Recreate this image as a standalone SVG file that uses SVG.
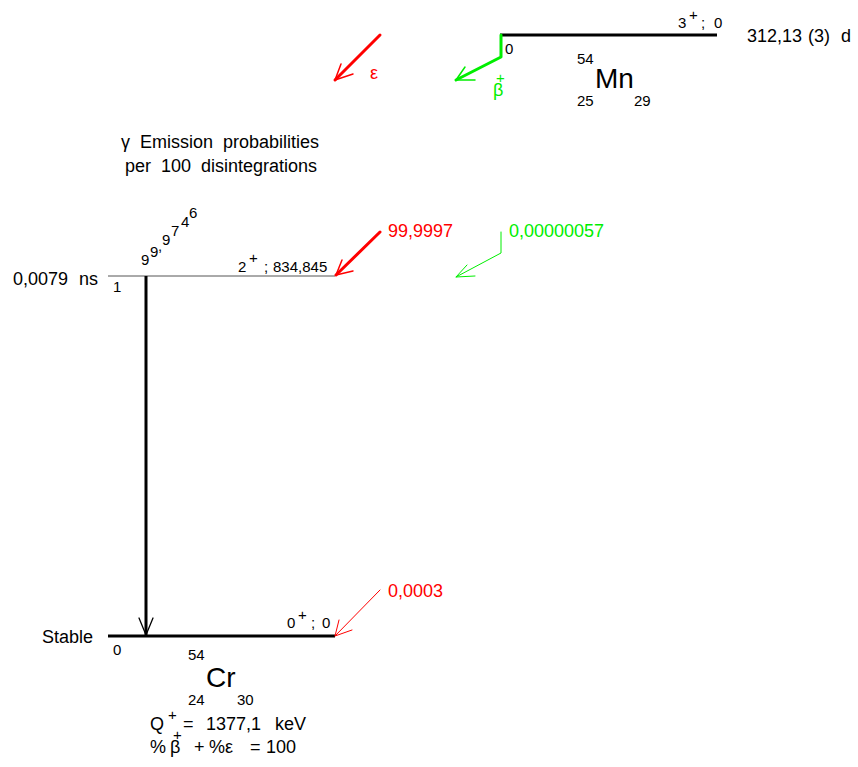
<svg xmlns="http://www.w3.org/2000/svg" width="858" height="767" viewBox="0 0 858 767">
<style>
text{font-family:"Liberation Sans",Arial,sans-serif;fill:#000}
.s{font-size:15px}
.m{font-size:18px}
.b{font-size:28px}
.r{fill:#ff0000}
.g{fill:#00ee00}
.lv{stroke:#000;stroke-width:3;fill:none}
.thin{stroke:#555;stroke-width:1;fill:none}
</style>
<rect width="858" height="767" fill="#fff"/>
<g id="parent-Mn54">
<line class="lv" x1="500" y1="35" x2="717" y2="35"/>
<text class="s" x="678" y="28">3</text><text class="s" x="689" y="20">+</text><text class="s" x="701" y="28">;</text><text class="s" x="714" y="28">0</text>
<text class="m" x="747" y="42">312,13</text><text class="m" x="808" y="42">(3)</text><text class="m" x="841" y="42">d</text>
<text class="s" x="505" y="54">0</text>
<text class="s" x="577" y="64">54</text>
<text class="b" x="595" y="88">Mn</text>
<text class="s" x="577" y="106">25</text>
<text class="s" x="634" y="106">29</text>
<text class="m r" x="370" y="79">ε</text>
<text class="m g" x="493" y="96">β</text><text class="s g" x="496" y="83">+</text>
</g>
<g id="caption">
<text class="m" x="121" y="148" word-spacing="5">γ Emission probabilities</text>
<text class="m" x="125" y="172" word-spacing="5">per 100 disintegrations</text>
</g>
<g id="level-834">
<line class="thin" x1="108" y1="276" x2="335" y2="276"/>
<text class="m" x="13" y="285">0,0079</text><text class="m" x="79" y="285">ns</text>
<text class="s" x="113" y="292">1</text>
<text class="s" x="238" y="272">2</text><text class="s" x="249" y="263">+</text><text class="s" x="264" y="272">;</text><text class="s" x="273" y="272">834,845</text>
<text class="m r" x="388" y="237">99,9997</text>
<text class="m g" x="509" y="237">0,00000057</text>
</g>
<g id="level-0">
<line class="lv" x1="108" y1="636" x2="335" y2="636"/>
<text class="m" x="42" y="643">Stable</text>
<text class="s" x="113" y="655">0</text>
<text class="s" x="287" y="628">0</text><text class="s" x="298" y="620">+</text><text class="s" x="311" y="628">;</text><text class="s" x="322" y="628">0</text>
<text class="m r" x="388" y="597">0,0003</text>
<text class="s" x="188" y="660">54</text>
<text class="b" x="206" y="687">Cr</text>
<text class="s" x="188" y="705">24</text>
<text class="s" x="237" y="705">30</text>
<text class="m" x="150" y="730">Q</text><text class="s" x="168" y="720">+</text><text class="m" x="183" y="730">=</text><text class="m" x="206" y="730">1377,1</text><text class="m" x="275" y="730">keV</text>
<text class="m" x="150" y="753">%</text><text class="m" x="170" y="753">β</text><text class="s" x="173" y="740">+</text><text class="m" x="194" y="753">+</text><text class="m" x="209" y="753">%ε</text><text class="m" x="250" y="753">=</text><text class="m" x="266" y="753">100</text>
</g>
<g id="connectors" fill="none" stroke-linecap="round" stroke-linejoin="round">
<polyline points="380,35 335,80" stroke="#ff0000" stroke-width="3"/>
<polyline points="341,64 335,80 353,74" stroke="#ff0000" stroke-width="1.5"/>
<polyline points="501,35 501,57 456,80" stroke="#00ee00" stroke-width="3"/>
<polyline points="465,67 456,80 475,80" stroke="#00ee00" stroke-width="1.5"/>
<polyline points="380,232 336,275" stroke="#ff0000" stroke-width="3"/>
<polyline points="342,260 336,275 353,271" stroke="#ff0000" stroke-width="1.5"/>
<polyline points="501,232 501,253 456,277" stroke="#00ee00" stroke-width="1"/>
<polyline points="467,265 456,277 475,276" stroke="#00ee00" stroke-width="1"/>
<polyline points="380,590 335,636" stroke="#ff0000" stroke-width="1"/>
<polyline points="339,620 335,636 352,630" stroke="#ff0000" stroke-width="1"/>
<line x1="146" y1="276" x2="146" y2="635" stroke="#000" stroke-width="3" stroke-linecap="butt"/>
<polyline points="139,618 146,635 153,618" stroke="#000" stroke-width="1.3"/>
<text class="s" stroke="none" x="141 150 158 162 171 181 189" y="265 257 251 245 236 227 218">99,9746</text>
</g>
</svg>
